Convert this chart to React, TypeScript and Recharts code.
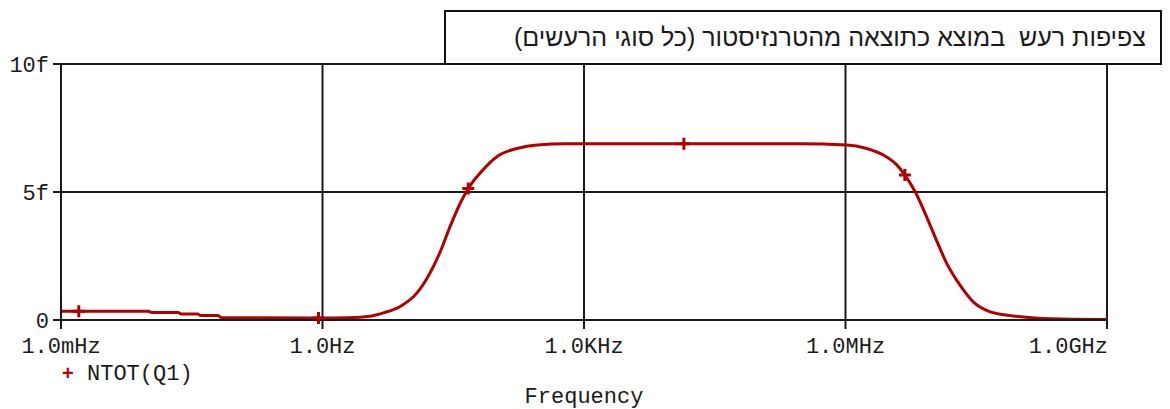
import React from 'react';
import { LineChart, Line, XAxis, YAxis, CartesianGrid, Label } from 'recharts';

// frequency (Hz) and total output noise density (fV/sqrt(Hz) units read as "f")
const freqs = [
  0.001, 0.0016, 0.01, 0.011, 0.022, 0.024, 0.037, 0.04, 0.063, 0.07,
  0.9, 2, 3.5, 5, 7.7, 12, 17, 22, 29, 38,
  47, 64, 100, 170, 290, 630, 14000, 300000, 1030000, 1750000,
  2700000, 3900000, 4800000, 6300000, 8500000, 11000000, 14500000, 20500000, 29000000, 45000000,
  83000000, 160000000, 400000000, 1000000000,
];
const ntot = [
  0.34, 0.34, 0.34, 0.29, 0.29, 0.23, 0.23, 0.18, 0.18, 0.09,
  0.08, 0.09, 0.15, 0.28, 0.52, 1.04, 1.82, 2.6, 3.64, 4.56,
  5.14, 5.73, 6.38, 6.7, 6.84, 6.88, 6.88, 6.88, 6.84, 6.7,
  6.45, 6.05, 5.66, 5.01, 4.04, 3.13, 2.21, 1.37, 0.72, 0.33,
  0.16, 0.07, 0.03, 0.02,
];
// trace symbols ("+") drawn on these samples
const markerFreqs = [0.0016, 0.9, 47, 14000, 4800000];

const freqTicks = [0.001, 1, 1000, 1000000, 1000000000];
const freqTickLabels = ['1.0mHz', '1.0Hz', '1.0KHz', '1.0MHz', '1.0GHz'];
const yTicks = [0, 5, 10];
const yTickLabels = ['0', '5f', '10f'];

const title = 'צפיפות רעש  במוצא כתוצאה מהטרנזיסטור (כל סוגי הרעשים)';
const seriesName = 'NTOT(Q1)';
const xTitle = 'Frequency';

const data = freqs.map((f, i) => ({ f, v: ntot[i] }));

const MONO = '"Liberation Mono", "Courier New", monospace';
const RED = '#b00000';
const INK = '#1a1a1a';

const FreqTick = (props: any) => {
  const { x, y, payload, index } = props;
  const i = freqTicks.findIndex((t) => Math.abs(Math.log10(t) - Math.log10(payload.value)) < 1e-6);
  const last = index === freqTicks.length - 1;
  return (
    <text x={last ? x + 1 : x} y={y} dy="0.71em" textAnchor={last ? 'end' : 'middle'}
      fontFamily={MONO} fontSize={22} fill={INK}>
      {i >= 0 ? freqTickLabels[i] : ''}
    </text>
  );
};

const PlusDot = (props: any) => {
  const { cx, cy, payload, index } = props;
  if (!markerFreqs.includes(payload.f)) return <g key={`d-${index}`} />;
  return (
    <path key={`d-${index}`} d={`M${cx - 6},${cy}h12M${cx},${cy - 6}v12`}
      stroke={RED} strokeWidth={3} fill="none" />
  );
};

export default function App() {
  return (
    <div style={{ position: 'absolute', left: 0, top: 0, width: 1170, height: 409, background: '#fff' }}>
      <LineChart width={1170} height={409} data={data}
        margin={{ top: 64, right: 63, bottom: 0, left: 0 }}>
        <CartesianGrid stroke={INK} strokeWidth={2} />
        <XAxis dataKey="f" type="number" scale="log" domain={[0.001, 1000000000]}
          ticks={freqTicks} interval={0} allowDataOverflow height={89}
          tickSize={9} tickMargin={8} tick={<FreqTick />}
          axisLine={{ stroke: INK, strokeWidth: 2 }} tickLine={{ stroke: INK, strokeWidth: 2 }}>
          <Label content={(p: any) => (
            <text x={p.viewBox.x + p.viewBox.width / 2} y={p.viewBox.y + 83} textAnchor="middle"
              fontFamily={MONO} fontSize={22} fill={INK}>{xTitle}</text>
          )} />
        </XAxis>
        <YAxis type="number" domain={[0, 10]} ticks={yTicks} interval={0} width={61}
          tickSize={8} tickMargin={4}
          tickFormatter={(v: number) => yTickLabels[yTicks.indexOf(v)] ?? ''}
          tick={{ fontFamily: MONO, fontSize: 22, fill: INK }}
          axisLine={{ stroke: INK, strokeWidth: 2 }} tickLine={{ stroke: INK, strokeWidth: 2 }} />
        <Line dataKey="v" type="monotone" stroke={RED} strokeWidth={3}
          dot={<PlusDot />} activeDot={false} isAnimationActive={false} />
      </LineChart>

      <div style={{ position: 'absolute', left: 62, top: 362, display: 'flex', alignItems: 'baseline',
        fontFamily: MONO, fontSize: 22, color: INK, whiteSpace: 'pre' }}>
        <span style={{ color: RED, fontFamily: 'Arial, "Liberation Sans", sans-serif', fontSize: 20, fontWeight: 'bold', width: 25 }}>+</span>
        <span>{seriesName}</span>
      </div>

      <div style={{ position: 'absolute', left: 444, top: 10, width: 718, height: 55, boxSizing: 'border-box',
        border: '2px solid #111', background: '#fff', direction: 'rtl', textAlign: 'right',
        paddingRight: 14, paddingTop: 11, whiteSpace: 'pre',
        fontFamily: '"Liberation Sans", Arial, sans-serif', fontSize: 25, color: INK, lineHeight: '28px' }}>
        {title}
      </div>
    </div>
  );
}
